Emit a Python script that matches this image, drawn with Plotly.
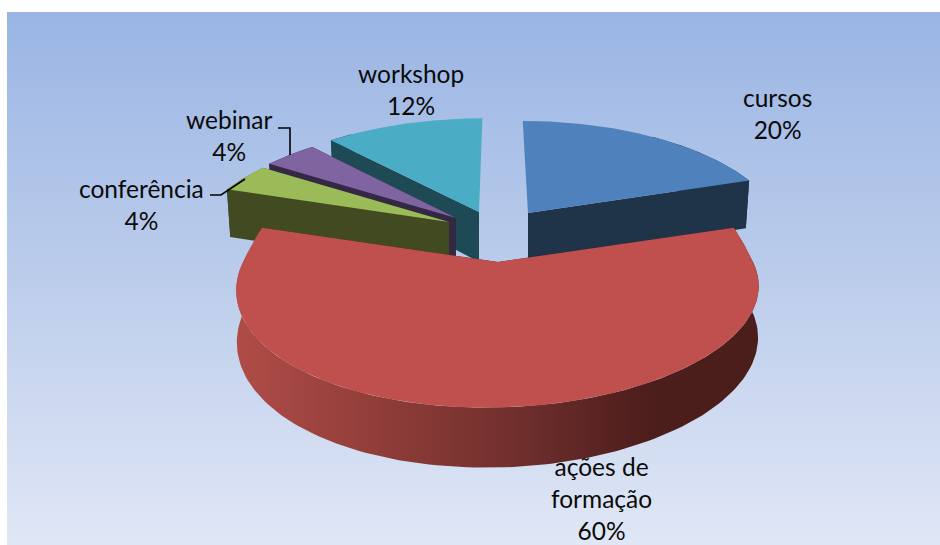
import numpy as np
import plotly.graph_objects as go

# Share of each training format, in percent, clockwise from twelve o'clock
categories = ["cursos", "ações de formação", "conferência", "webinar", "workshop"]
values = [20, 60, 4, 4, 12]

# Pie projection settings, in page pixels
CENTER_X, CENTER_Y = 498, 262
RADIUS = 255
TILT = 0.447
PERSPECTIVE = 0.217
DEPTH = 50

# Each wedge's pull-out from the common centre, its size relative to the full
# radius, and how much its outer wall narrows towards the base
apex_shift = {
    "cursos": (30, -49),
    "ações de formação": (0, 0),
    "conferência": (-49, -40),
    "webinar": (-42, -44),
    "workshop": (-19, -50),
}
wedge_scale = {
    "cursos": 0.98,
    "ações de formação": 1.0,
    "conferência": 0.99,
    "webinar": 0.99,
    "workshop": 1.0,
}
wall_taper = {
    "cursos": 0.0003,
    "ações de formação": 0.00005,
    "conferência": 0.0003,
    "webinar": 0.0003,
    "workshop": 0.0003,
}
# The large front wedge flares at its rear corners and leans left at the front
rear_flare = {"ações de formação": 0.42}
front_lean = {"ações de formação": 12}

top_colors = {
    "cursos": "#4f81bd",
    "ações de formação": "#c0504d",
    "conferência": "#9bbb59",
    "webinar": "#8064a2",
    "workshop": "#4bacc6",
}
side_colors = {
    "cursos": "#1f3349",
    "ações de formação": "#4b1d1b",
    "conferência": "#414a20",
    "webinar": "#352845",
    "workshop": "#1d4a54",
}
# Wedges are painted from the back of the pie to the front
paint_order = ["workshop", "webinar", "conferência", "cursos", "ações de formação"]

label_lines = {
    "cursos": (["cursos"], 777, 113),
    "ações de formação": (["ações de", "formação"], 601, 498.5),
    "conferência": (["conferência"], 141, 204),
    "webinar": (["webinar"], 229, 135),
    "workshop": (["workshop"], 411, 89),
}
leaders = [
    ([278, 290, 290], [128, 128, 155]),
    ([210, 221, 245], [195, 195, 179]),
]


def project(theta, radius, shift, drop=0.0, taper=0.0, flare=0.0, lean=0.0):
    """Project a point of the pie's plane to page pixels."""
    sin_t = np.sin(theta)
    radius = radius * (1 + flare * np.clip(sin_t, 0, None) ** 2)
    ground_y = radius * sin_t / RADIUS
    scale = 1 / (1 + PERSPECTIVE * ground_y)
    narrowing = 1 - taper * drop
    x = CENTER_X + (shift[0] + radius * np.cos(theta) * narrowing) * scale
    x = x - lean * np.clip(-sin_t, 0, None) ** 2
    y = CENTER_Y + shift[1] - TILT * radius * sin_t * scale + drop * scale ** 0.75
    return x, y


def polygon(xs, ys, color=None, gradient=None):
    trace = dict(x=xs, y=ys, mode="lines", fill="toself", hoverinfo="skip",
                 line=dict(width=0), showlegend=False)
    if gradient:
        trace["fillgradient"] = gradient
    else:
        trace["fillcolor"] = color
    return go.Scatter(**trace)


fig = go.Figure()

# Backdrop panel with a vertical blue wash
fig.add_trace(polygon(
    [7, 940, 940, 7, 7], [12, 12, 545, 545, 12],
    gradient=dict(type="vertical", colorscale=[
        [0, "#e0e7f6"], [0.5, "#bccdeb"], [1, "#9ab5e4"]]),
))

# Angular extent of every wedge, going clockwise from the top
spans = {}
start = 90.0
for name, value in zip(categories, values):
    sweep = value / sum(values) * 360
    spans[name] = (start, start - sweep)
    start -= sweep

for name in paint_order:
    a0, a1 = np.radians(spans[name])
    shift = apex_shift[name]
    radius = RADIUS * wedge_scale[name]
    shape = dict(flare=rear_flare.get(name, 0.0), lean=front_lean.get(name, 0.0))
    taper = wall_taper[name]
    thetas = np.linspace(a0, a1, 160)
    rim_x, rim_y = project(thetas, radius, shift, **shape)
    low_x, low_y = project(thetas, radius, shift, DEPTH, taper, **shape)
    apex_x, apex_y = project(0.0, 0.0, shift)
    apex_low_x, apex_low_y = project(0.0, 0.0, shift, DEPTH, taper)

    # Straight cut faces from the apex to the rim; the one along the
    # twelve o'clock line faces away from view and is left out
    for i in (0, -1):
        if abs(np.cos(thetas[i])) < 0.01:
            continue
        fig.add_trace(polygon(
            [apex_x, rim_x[i], low_x[i], apex_low_x, apex_x],
            [apex_y, rim_y[i], low_y[i], apex_low_y, apex_y],
            color=side_colors[name],
        ))

    # Curved outer wall, skipping the stretch that faces away from view
    seen = np.abs(np.cos(thetas)) > 0.6
    wall_x = np.concatenate([rim_x[seen], low_x[seen][::-1], rim_x[seen][:1]])
    wall_y = np.concatenate([rim_y[seen], low_y[seen][::-1], rim_y[seen][:1]])
    if name == "ações de formação":
        wall_x = np.concatenate([rim_x, low_x[::-1], rim_x[:1]])
        wall_y = np.concatenate([rim_y, low_y[::-1], rim_y[:1]])
        fig.add_trace(polygon(wall_x, wall_y, gradient=dict(
            type="horizontal",
            colorscale=[[0, "#b04c48"], [0.25, "#933e3a"], [0.55, "#6e2e2c"],
                        [0.8, "#4b1d1b"], [1, "#4b1d1b"]],
        )))
    else:
        fig.add_trace(polygon(wall_x, wall_y, color=side_colors[name]))

    # Top face
    fig.add_trace(polygon(
        np.concatenate([[apex_x], rim_x, [apex_x]]),
        np.concatenate([[apex_y], rim_y, [apex_y]]),
        color=top_colors[name],
    ))

for xs, ys in leaders:
    fig.add_trace(go.Scatter(x=xs, y=ys, mode="lines", hoverinfo="skip",
                             line=dict(color="#000000", width=1.6), showlegend=False))

for name, value in zip(categories, values):
    lines, x, y = label_lines[name]
    fig.add_annotation(
        x=x, y=y, xref="x", yref="y", showarrow=False,
        text="<br>".join(lines + [f"{value}%"]),
        font=dict(family="Lato, Open Sans, sans-serif", size=24.5, color="#0a0a0a"),
        align="center",
    )

fig.update_layout(
    width=940, height=545,
    margin=dict(l=0, r=0, t=0, b=0),
    paper_bgcolor="#ffffff", plot_bgcolor="#ffffff",
    xaxis=dict(range=[0, 940], visible=False, fixedrange=True),
    yaxis=dict(range=[545, 0], visible=False, fixedrange=True),
)
fig.write_html("out.html", config=dict(displayModeBar=False))
